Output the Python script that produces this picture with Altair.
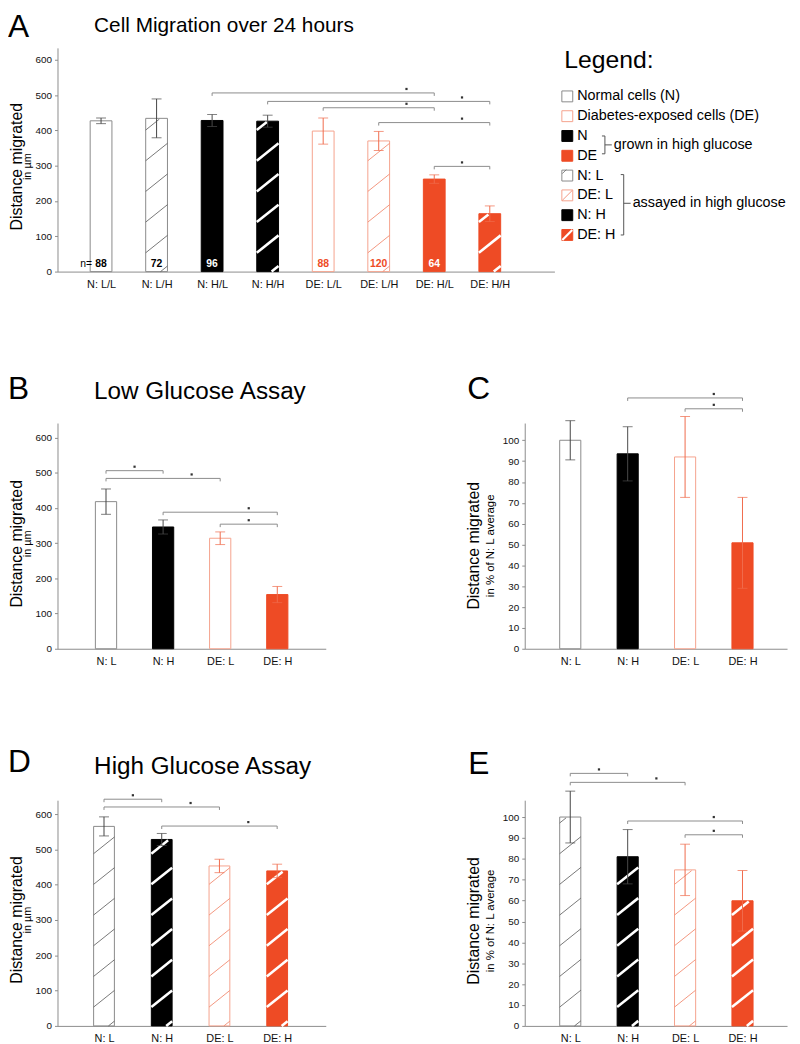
import json
import pandas as pd
import altair as alt

FONT = "Liberation Sans"
RED = "#ee4b25"
SALMON = "#f5a28d"
SALMON_HATCH = "#f28b72"
GRAY = "#8a8a8a"
AXIS_GRAY = "#8c8c8c"
ERR_N = "#444444"
ERR_DE = "#f06b4c"
DOT = "#333333"

# ---------------- data ----------------
A_categories = ["N: L/L", "N: L/H", "N: H/L", "N: H/H", "DE: L/L", "DE: L/H", "DE: H/L", "DE: H/H"]
A_means = [427, 434, 428, 426, 398, 370, 262, 164]
A_errors = [8, 55, 17, 17, 37, 27, 12, 22]
A_n = ["88", "72", "96", "", "88", "120", "64", ""]
A_groups = ["N", "N", "N", "N", "DE", "DE", "DE", "DE"]
A_fills = ["open", "open", "solid", "solid", "open", "open", "solid", "solid"]
A_hatched = [False, True, False, True, False, True, False, True]
A_sig_from = [2, 3, 4, 5, 6]
A_sig_to = [6, 7, 6, 7, 7]
A_sig_height = [506, 482, 464, 422, 298]

B_categories = ["N: L", "N: H", "DE: L", "DE: H"]
B_means = [418, 346, 314, 154]
B_errors = [36, 20, 18, 23]
B_sig_from = [0, 0, 1, 2]
B_sig_to = [1, 2, 3, 3]
B_sig_height = [506, 484, 388, 354]

C_categories = ["N: L", "N: H", "DE: L", "DE: H"]
C_means = [100, 93.5, 92, 50.8]
C_errors = [9.4, 13, 19.4, 21.8]
C_sig_from = [1, 2]
C_sig_to = [3, 3]
C_sig_height = [120.3, 115.1]

D_categories = ["N: L", "N: H", "DE: L", "DE: H"]
D_means = [565, 528, 453, 439]
D_errors = [27, 17, 19, 19]
D_sig_from = [0, 0, 1]
D_sig_to = [1, 2, 3]
D_sig_height = [642, 620, 566]

E_categories = ["N: L", "N: H", "DE: L", "DE: H"]
E_means = [100, 81, 74.7, 59.9]
E_errors = [12.4, 13, 12.3, 14.5]
E_sig_from = [0, 0, 1, 2]
E_sig_to = [1, 2, 3, 3]
E_sig_height = [120.9, 116.6, 98.1, 91.5]

FOUR_groups = ["N", "N", "DE", "DE"]
FOUR_fills = ["open", "solid", "open", "solid"]

legend_labels = ["Normal cells (N)", "Diabetes-exposed cells (DE)", "N", "DE",
                 "N: L", "DE: L", "N: H", "DE: H"]
legend_groups = ["N", "DE", "N", "DE", "N", "DE", "N", "DE"]
legend_fills = ["open", "open", "solid", "solid", "open", "open", "solid", "solid"]

STYLE = {
    ("N", "open"): dict(fill="#ffffff", stroke=GRAY, hatch="#555555", hw=0.8, err=ERR_N),
    ("N", "solid"): dict(fill="#000000", stroke="#000000", hatch="#ffffff", hw=2.6, err="#4a4a4a"),
    ("DE", "open"): dict(fill="#ffffff", stroke=SALMON, hatch=SALMON_HATCH, hw=0.9, err=ERR_DE),
    ("DE", "solid"): dict(fill=RED, stroke=RED, hatch="#ffffff", hw=2.6, err=ERR_DE),
}

HATCH_SPACING = 31.0
HATCH_PHASE = -12.0


def text_layer(txt, x, y, size, angle=0, align="left", baseline="alphabetic", weight="normal", color="#000000"):
    kw = dict(font=FONT, fontSize=size, align=align, baseline=baseline, fontWeight=weight, color=color)
    if angle:
        kw["angle"] = angle
    return alt.Chart(pd.DataFrame({"t": [txt]})).mark_text(**kw).encode(
        text="t:N", x=alt.value(x), y=alt.value(y))


def panel(cats, means, errs, groups, fills, hatched, sig_from, sig_to, sig_h,
          width, height, xdom, ymax, yticks, hw, texts, n_labels=None, layout_width=None):
    n = len(cats)
    kx = width / (xdom[1] - xdom[0])
    ky = height / ymax
    rows = []
    hrows = []
    for i in range(n):
        st = STYLE[(groups[i], fills[i])]
        rows.append(dict(idx=i, mean=means[i], lo=means[i] - errs[i], hi=means[i] + errs[i],
                         x1=i - hw, x2=i + hw, zero=0, fill=st["fill"], stroke=st["stroke"],
                         err=st["err"], nlab=(n_labels[i] if n_labels else ""),
                         ncol=("#ffffff" if fills[i] == "solid" else ("#000000" if groups[i] == "N" else RED))))
        if hatched[i]:
            top = means[i] * ky
            wpx = 2 * hw * kx
            rise = 0.8 * wpx
            y0 = HATCH_PHASE
            while y0 < top:
                t0 = max(0.0, (0 - y0) / rise)
                t1 = min(1.0, (top - 0.8 - y0) / rise)
                if t1 > t0:
                    hrows.append(dict(hx1=i - hw + t0 * wpx / kx, hx2=i - hw + t1 * wpx / kx,
                                      hy1=(y0 + t0 * rise) / ky, hy2=(y0 + t1 * rise) / ky,
                                      hc=st["hatch"], hwid=st["hw"]))
                y0 += HATCH_SPACING
    df = pd.DataFrame(rows)
    sdf = pd.DataFrame(dict(f=sig_from, t=sig_to, h=sig_h))
    sdf["dotx"] = sdf["t"] - 0.5

    xs = alt.Scale(domain=list(xdom), range=[0, width], nice=False, zero=False)
    ys = alt.Scale(domain=[0, ymax], nice=False, zero=True)
    label_expr = json.dumps(cats) + "[datum.value]"
    xaxis = alt.Axis(values=list(range(n)), labelExpr=label_expr, ticks=False, grid=False, title=None,
                     labelFlush=False, labelOverlap=False, labelPadding=7, domainColor=AXIS_GRAY,
                     labelFont=FONT, labelFontSize=11, labelColor="#111111", labelBound=False)
    yaxis = alt.Axis(values=yticks, tickSize=3, grid=False, title=None, labelFlush=False,
                     labelOverlap=False, labelPadding=3, domainColor=AXIS_GRAY, tickColor=AXIS_GRAY,
                     labelFont=FONT, labelFontSize=10, labelColor="#111111", labelBound=False)

    def X(f):
        return alt.X(f, scale=xs, axis=xaxis)

    def Y(f):
        return alt.Y(f, scale=ys, axis=yaxis)

    base = alt.Chart(df)
    bars = base.mark_bar(strokeWidth=1).encode(
        x=X("x1:Q"), x2="x2:Q", y=Y("mean:Q"), y2="zero:Q",
        fill=alt.Fill("fill:N", scale=None), stroke=alt.Stroke("stroke:N", scale=None))
    layers = [bars]
    if hrows:
        hdf = pd.DataFrame(hrows)
        layers.append(alt.Chart(hdf).mark_rule(strokeCap="butt").encode(
            x=X("hx1:Q"), x2="hx2:Q", y=Y("hy1:Q"), y2="hy2:Q",
            color=alt.Color("hc:N", scale=None), strokeWidth=alt.StrokeWidth("hwid:Q", scale=None)))
    ebar = base.mark_rule(strokeWidth=1).encode(
        x=X("idx:Q"), y=Y("lo:Q"), y2="hi:Q", color=alt.Color("err:N", scale=None))
    cap_hi = base.mark_tick(orient="horizontal", size=10, thickness=1).encode(
        x=X("idx:Q"), y=Y("hi:Q"), color=alt.Color("err:N", scale=None))
    cap_lo = base.mark_tick(orient="horizontal", size=10, thickness=1).encode(
        x=X("idx:Q"), y=Y("lo:Q"), color=alt.Color("err:N", scale=None))

    sbase = alt.Chart(sdf)
    s_line = sbase.mark_rule(color=AXIS_GRAY, strokeWidth=1).encode(
        x=X("f:Q"), x2="t:Q", y=Y("h:Q"))
    s_left = sbase.mark_rule(color=AXIS_GRAY, strokeWidth=1, y2Offset=3).encode(
        x=X("f:Q"), y=Y("h:Q"), y2="h:Q")
    s_right = sbase.mark_rule(color=AXIS_GRAY, strokeWidth=1, y2Offset=3).encode(
        x=X("t:Q"), y=Y("h:Q"), y2="h:Q")
    s_dot = sbase.mark_square(size=5, color=DOT, opacity=1, yOffset=-4).encode(
        x=X("dotx:Q"), y=Y("h:Q"))

    layers += [ebar, cap_hi, cap_lo, s_line, s_left, s_right, s_dot]
    if n_labels:
        layers.append(base.mark_text(font=FONT, fontSize=10.5, fontWeight="bold", baseline="middle",
                                     align="center", yOffset=-8).encode(
            x=X("idx:Q"), y=Y("zero:Q"),
            text="nlab:N", color=alt.Color("ncol:N", scale=None)))
    for t in texts:
        layers.append(text_layer(*t))
    return alt.layer(*layers).properties(width=layout_width or width, height=height)


# ---------------- panel A with legend ----------------
A_main = panel(A_categories, A_means, A_errors, A_groups, A_fills, A_hatched,
               A_sig_from, A_sig_to, A_sig_height,
               width=502, height=226, xdom=(-0.7843, 8.164), ymax=633.6,
               yticks=[0, 100, 200, 300, 400, 500, 600], hw=0.196,
               texts=[("A", -50, -11, 32),
                      ("Cell Migration over 24 hours", 37, -16, 21),
                      ("Distance migrated", -41, 120, 16, 270, "center", "middle"),
                      ("in µm", -30, 120, 11, 270, "center", "middle"),
                      ("n=", 29, 218, 10.5, 0, "center", "middle")],
               n_labels=A_n, layout_width=271)

ldf = pd.DataFrame(dict(row=list(range(8)), label=legend_labels,
                        fill=[STYLE[(g, f)]["fill"] for g, f in zip(legend_groups, legend_fills)],
                        stroke=[STYLE[(g, f)]["stroke"] for g, f in zip(legend_groups, legend_fills)]))
lscale = alt.Scale(domain=[0, 7], range=[49, 189])
lbase = alt.Chart(ldf)
leg_sq = lbase.mark_square(size=121, strokeWidth=1, opacity=1).encode(
    x=alt.value(515), y=alt.Y("row:Q", scale=lscale, axis=None),
    fill=alt.Fill("fill:N", scale=None), stroke=alt.Stroke("stroke:N", scale=None))
leg_tx = lbase.mark_text(font=FONT, fontSize=14.5, align="left", baseline="middle").encode(
    x=alt.value(525), y=alt.Y("row:Q", scale=lscale, axis=None), text="label:N")


def leg_diag(row, color, width, x1, x2, o1, o2):
    return alt.Chart(pd.DataFrame({"row": [row]})).mark_rule(
        color=color, strokeWidth=width, yOffset=o1, y2Offset=o2).encode(
        x=alt.value(x1), x2=alt.value(x2), y=alt.Y("row:Q", scale=lscale, axis=None), y2="row:Q")


def vrule(x, y1, y2):
    return alt.Chart(pd.DataFrame({"a": [0]})).mark_rule(color="#555555", strokeWidth=1).encode(
        x=alt.value(x), y=alt.value(y1), y2=alt.value(y2))


def hrule(x1, x2, y):
    return alt.Chart(pd.DataFrame({"a": [0]})).mark_rule(color="#555555", strokeWidth=1).encode(
        x=alt.value(x1), x2=alt.value(x2), y=alt.value(y))


legend = alt.layer(
    leg_sq, leg_tx,
    leg_diag(4, "#666666", 0.8, 510, 514, -2, -6),
    leg_diag(5, SALMON_HATCH, 0.9, 510, 520, 5, -5),
    leg_diag(7, "#ffffff", 2.2, 510, 520, 5, -5),
    text_layer("Legend:", 512, 20, 25),
    vrule(553, 89, 107), hrule(550, 553, 89), hrule(550, 553, 107), hrule(553, 560, 98),
    text_layer("grown in high glucose", 562, 98, 14.5, 0, "left", "middle"),
    vrule(572, 128, 189), hrule(569, 572, 128), hrule(569, 572, 189), hrule(572, 579, 157),
    text_layer("assayed in high glucose", 581, 157, 14.5, 0, "left", "middle"),
)

A_chart = alt.layer(A_main, legend).resolve_scale(y="independent")

blank = alt.Chart(pd.DataFrame({"a": [0]})).mark_point(opacity=0).encode(
    x=alt.value(0), y=alt.value(0)).properties(width=265, height=226)

# ---------------- panels B-E ----------------
B_chart = panel(B_categories, B_means, B_errors, FOUR_groups, FOUR_fills, [False] * 4,
                B_sig_from, B_sig_to, B_sig_height,
                width=271, height=228, xdom=(-0.8497, 3.849), ymax=641.3,
                yticks=[0, 100, 200, 300, 400, 500, 600], hw=0.186,
                texts=[("B", -50, -24, 32),
                       ("Low Glucose Assay", 37, -24, 24.5),
                       ("Distance migrated", -41, 122, 16, 270, "center", "middle"),
                       ("in µm", -30, 122, 11, 270, "center", "middle")])

C_chart = panel(C_categories, C_means, C_errors, FOUR_groups, FOUR_fills, [False] * 4,
                C_sig_from, C_sig_to, C_sig_height,
                width=265, height=228, xdom=(-0.7931, 3.776), ymax=108.26,
                yticks=list(range(0, 101, 10)), hw=0.184,
                texts=[("C", -58, -24, 32),
                       ("Distance migrated", -51, 124, 16, 270, "center", "middle"),
                       ("in % of N: L average", -34, 124, 11.5, 270, "center", "middle")])

D_chart = panel(D_categories, D_means, D_errors, FOUR_groups, FOUR_fills, [True] * 4,
                D_sig_from, D_sig_to, D_sig_height,
                width=271, height=228, xdom=(-0.806, 3.842), ymax=639.2,
                yticks=[0, 100, 200, 300, 400, 500, 600], hw=0.18,
                texts=[("D", -50, -28, 32),
                       ("High Glucose Assay", 37, -26, 24.5),
                       ("Distance migrated", -41, 121, 16, 270, "center", "middle"),
                       ("in µm", -30, 121, 11, 270, "center", "middle")])

E_chart = panel(E_categories, E_means, E_errors, FOUR_groups, FOUR_fills, [True] * 4,
                E_sig_from, E_sig_to, E_sig_height,
                width=265, height=228, xdom=(-0.7931, 3.776), ymax=108.06,
                yticks=list(range(0, 101, 10)), hw=0.184,
                texts=[("E", -57, -26, 32),
                       ("Distance migrated", -51, 122, 16, 270, "center", "middle"),
                       ("in % of N: L average", -34, 122, 11.5, 270, "center", "middle")])

chart = alt.concat(A_chart, blank, B_chart, C_chart, D_chart, E_chart,
                   columns=2, spacing={"row": 153, "column": 201},
                   bounds="flush", align="each").properties(
    autosize=alt.AutoSizeParams(type="none"),
    padding={"left": 50, "top": 35, "right": 742, "bottom": 1001},
).configure_view(stroke=None).configure_axis(labelOverlap=False, labelFlush=False)

chart.save("out.html", embed_options={"renderer": "svg", "actions": False})
